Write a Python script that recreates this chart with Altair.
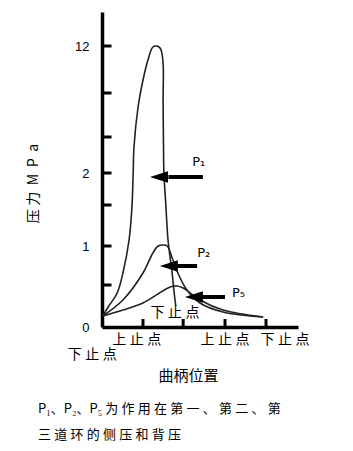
import altair as alt
import pandas as pd

SP = "\u2005"
def spaced(s):
    return SP.join(list(s))

# Curves: x in crank-position tick units, y in schematic pressure-scale units
p1_x = [0.02, 0.15, 0.37, 0.51, 0.66, 0.73, 0.76, 0.78, 0.88, 1.0, 1.12, 1.24, 1.32, 1.39,
        1.44, 1.49, 1.49, 1.50, 1.51, 1.56, 1.61, 1.71, 1.78, 1.80]
p1_y = [11, 20, 34, 54, 87, 120, 154, 180, 220, 247, 267, 280, 281, 280,
        277, 264, 227, 180, 154, 120, 87, 54, 27, 21]
p2_x = [0.02, 0.51, 1.0, 1.24, 1.37, 1.49, 1.59, 1.73, 1.85, 2.07, 2.39, 2.95, 3.93]
p2_y = [11, 27, 54, 74, 81, 82, 81, 67, 54, 37, 24, 15, 10]
p5_x = [0.02, 0.51, 1.0, 1.66, 1.83, 1.98, 2.39, 2.95, 3.93]
p5_y = [11, 17, 24, 40, 41, 39, 27, 17, 10]

# Axis ticks (schematic scale) and labelled values
y_tick_vals = [42, 81, 122, 154, 190, 234, 281]
y_label_vals = [0, 81, 154, 281]
y_label_text = ["0", "1", "2", "12"]
x_tick_vals = [1.0, 1.98, 3.0, 4.0]

# x-axis position labels
xlab_text = ["上止点", "上止点", "下止点", "下止点"]
xlab_x = [0.85, 3.0, 4.46, -0.24]
xlab_y = [-13, -13, -13, -28]

# Arrows (shaft start/end, head) and labels
arr_x1 = [1.62, 1.70, 2.36]
arr_x2 = [2.46, 2.32, 3.0]
arr_y = [150, 61, 30]
head_x = [1.39, 1.63, 2.24]
lab_text = ["P₁", "P₂", "P₅"]
lab_x = [2.2, 2.32, 3.17]
lab_y = [165, 74, 34]

FONT = "Noto Sans CJK SC"

rows = []
for name, xs_, ys_ in [("P1", p1_x, p1_y), ("P2", p2_x, p2_y), ("P5", p5_x, p5_y)]:
    for i, (a, b) in enumerate(zip(xs_, ys_)):
        rows.append({"series": name, "i": i, "x": a, "y": b})
curves = pd.DataFrame(rows)

xs = alt.Scale(domain=[0, 4.78], nice=False, zero=False)
ys = alt.Scale(domain=[0, 315], nice=False)

label_expr = " : ".join(
    [f"datum.value == {v} ? '{t}'" for v, t in zip(y_label_vals, y_label_text)]
) + " : ''"

y_title = "压" + SP + "力" + SP + " M " + SP + "P " + SP + "a"

lines = alt.Chart(curves).mark_line(
    interpolate="catmull-rom", stroke="#222222", strokeWidth=1.6
).encode(
    x=alt.X("x:Q", scale=xs, axis=alt.Axis(
        title="曲柄位置", labels=False, ticks=False, grid=False,
        domainColor="black", domainWidth=3.5,
        titleX=86, titleY=48, titleFont=FONT, titleFontSize=15,
        titleFontWeight="normal", titleColor="black", titleBaseline="middle",
        titleAlign="center")),
    y=alt.Y("y:Q", scale=ys, axis=alt.Axis(
        title=y_title, values=y_label_vals, labelExpr=label_expr,
        ticks=False, tickSize=0, grid=False, labelPadding=13,
        labelFont="Liberation Sans", labelFontSize=13, labelColor="black",
        domainColor="black", domainWidth=3.5,
        titleAngle=270, titleX=-69, titleY=171, titleAlign="center",
        titleBaseline="middle", titleFont=FONT, titleFontSize=14,
        titleFontWeight="normal", titleColor="black")),
    detail="series:N",
    order="i:Q",
)

yt = alt.Chart(pd.DataFrame({"v": y_tick_vals})).mark_tick(
    orient="horizontal", size=9, thickness=3, color="black", opacity=1
).encode(y=alt.Y("v:Q", scale=ys), x=alt.value(5))

xt = alt.Chart(pd.DataFrame({"v": x_tick_vals})).mark_tick(
    orient="vertical", size=8, thickness=3, color="black", opacity=1
).encode(x=alt.X("v:Q", scale=xs), y=alt.value(311))

xlab = alt.Chart(pd.DataFrame({"t": [spaced(t) for t in xlab_text], "x": xlab_x, "y": xlab_y})).mark_text(
    font=FONT, fontSize=14, color="black", align="center", baseline="middle"
).encode(x=alt.X("x:Q", scale=xs), y=alt.Y("y:Q", scale=ys), text="t:N")

inner = alt.Chart(pd.DataFrame({"t": [spaced("下止点")], "x": [1.78], "y": [14]})).mark_text(
    font=FONT, fontSize=14, color="black", align="center", baseline="middle"
).encode(x=alt.X("x:Q", scale=xs), y=alt.Y("y:Q", scale=ys), text="t:N")

shafts = alt.Chart(pd.DataFrame({"x1": arr_x1, "x2": arr_x2, "y": arr_y})).mark_rule(
    color="black", strokeWidth=4
).encode(x=alt.X("x1:Q", scale=xs), x2="x2:Q", y=alt.Y("y:Q", scale=ys))

heads = alt.Chart(pd.DataFrame({"x": head_x, "y": arr_y})).mark_point(
    shape="M -1 0 L 1 -0.65 L 1 0.65 Z", size=324, filled=True, color="black", opacity=1
).encode(x=alt.X("x:Q", scale=xs), y=alt.Y("y:Q", scale=ys))

plabs = alt.Chart(pd.DataFrame({"t": lab_text, "x": lab_x, "y": lab_y})).mark_text(
    font="DejaVu Sans", fontSize=13, color="black", align="left", baseline="middle"
).encode(x=alt.X("x:Q", scale=xs), y=alt.Y("y:Q", scale=ys), text="t:N")

caption = [
    "P₁" + spaced("、") + "P₂" + spaced("、") + "P₅ " + spaced("为作用在第一、第二、第"),
    spaced("三道环的侧压和背压"),
]

chart = alt.layer(lines, yt, xt, xlab, inner, shafts, heads, plabs).properties(
    width=196, height=315,
    background="white",
    autosize=alt.AutoSizeParams(type="none"),
    padding={"left": 102, "top": 12, "right": 55, "bottom": 124},
    title=alt.TitleParams(
        text=caption, orient="bottom", anchor="start", frame="group",
        dx=-64, offset=20, font=FONT, fontSize=13, fontWeight="normal",
        color="black", lineHeight=26, baseline="top"),
).configure_view(stroke=None)

chart.save("out.html", embed_options={"renderer": "svg", "actions": False})
